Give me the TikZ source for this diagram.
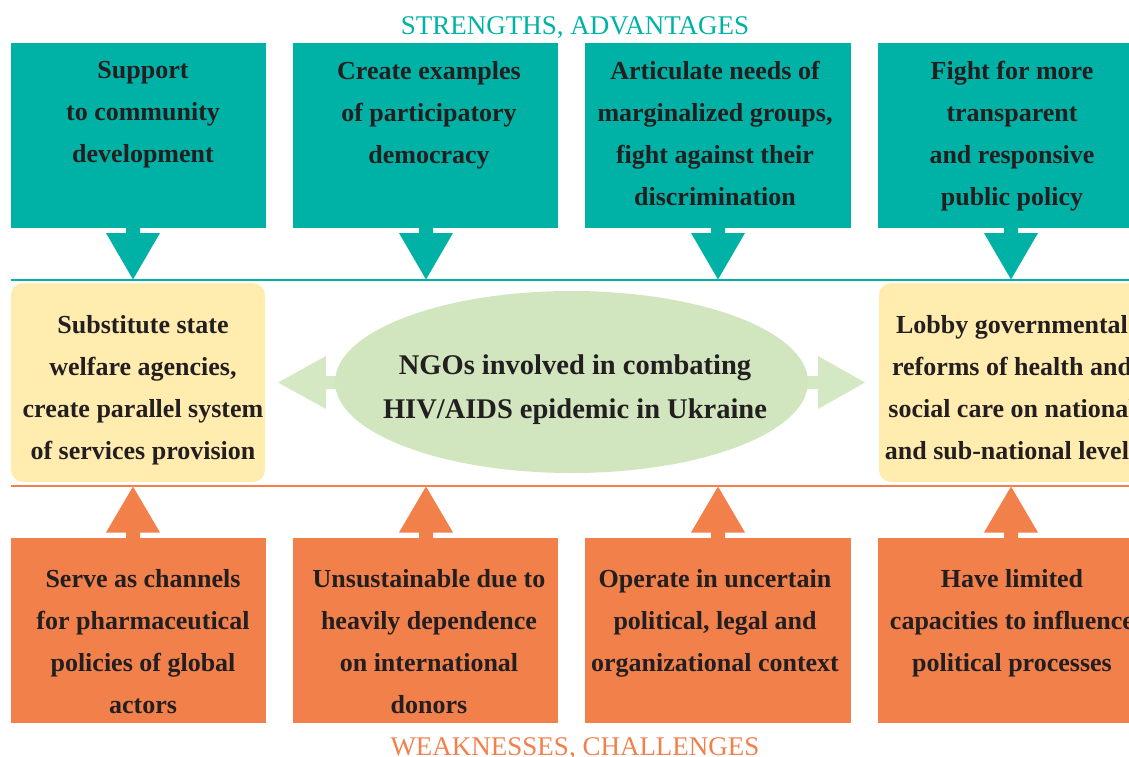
\documentclass[tikz,border=0pt]{standalone}
\usepackage{fontspec}
\setmainfont{Liberation Serif}
\usetikzlibrary{shapes.geometric}
\definecolor{tealc}{RGB}{0,178,166}
\definecolor{orangec}{RGB}{242,128,75}
\definecolor{yellowc}{RGB}{255,236,174}
\definecolor{greenc}{RGB}{209,230,190}
\definecolor{greenarr}{RGB}{212,232,196}
\definecolor{inkc}{RGB}{35,31,32}
\begin{document}
\begin{tikzpicture}[x=1pt,y=-1pt,
  boxt/.style={fill=tealc,inner sep=0pt,minimum height=185pt},
  boxo/.style={fill=orangec,inner sep=0pt,minimum height=185pt},
  boxy/.style={fill=yellowc,rounded corners=12pt,inner sep=0pt,minimum height=199pt},
  txt/.style={anchor=north,inner sep=0pt,align=center,text=inkc,
    font=\fontsize{26}{42}\selectfont\bfseries,
    execute at begin node={\rule{0pt}{30pt}}},
  ctxt/.style={anchor=north,inner sep=0pt,align=center,text=inkc,
    font=\fontsize{28.5}{43.5}\selectfont\bfseries,
    execute at begin node={\rule{0pt}{30pt}}},
  ttl/.style={anchor=base,inner sep=0pt,font=\fontsize{27}{30}\selectfont},
  rule/.style={line width=2pt}
]
\useasboundingbox (0,0) rectangle (1129,757);
\clip (0,0) rectangle (1129,757);

% titles
\node[ttl,text=tealc] (ttop) at (575,35) {STRENGTHS, ADVANTAGES};
\node[ttl,text=orangec] (tbot) at (575,755) {WEAKNESSES, CHALLENGES};

% top boxes
\node[boxt,minimum width=255pt] (t1) at (138.5,135.5) {};
\node[boxt,minimum width=265pt] (t2) at (425.5,135.5) {};
\node[boxt,minimum width=266pt] (t3) at (718,135.5) {};
\node[boxt,minimum width=266pt] (t4) at (1011,135.5) {};
\node[txt] (t1x) at (143,61) {Support\\to community\\development};
\node[txt] (t2x) at (429,61) {Create examples\\of participatory\\democracy};
\node[txt] (t3x) at (715,61) {Articulate needs of\\marginalized groups,\\fight against their\\discrimination};
\node[txt] (t4x) at (1012,61) {Fight for more\\transparent\\and responsive\\public policy};

% bottom boxes
\node[boxo,minimum width=255pt] (b1) at (138.5,630.5) {};
\node[boxo,minimum width=265pt] (b2) at (425.5,630.5) {};
\node[boxo,minimum width=266pt] (b3) at (718,630.5) {};
\node[boxo,minimum width=266pt] (b4) at (1011,630.5) {};
\node[txt] (b1x) at (143,569) {Serve as channels\\for pharmaceutical\\policies of global\\actors};
\node[txt] (b2x) at (429,569) {Unsustainable due to\\heavily dependence\\on international\\donors};
\node[txt] (b3x) at (715,569) {Operate in uncertain\\political, legal and\\organizational context};
\node[txt] (b4x) at (1012,569) {Have limited\\capacities to influence\\political processes};

% horizontal rules
\coordinate (tl) at (11,280);
\coordinate (tr) at (1129,280);
\coordinate (ol) at (11,486);
\coordinate (or) at (1129,486);
\draw[rule,tealc] (tl) -- (tr);
\draw[rule,orangec] (ol) -- (or);

% down arrows (teal)
\foreach \c/\n in {133/t1,426/t2,718/t3,1011/t4}{
  \fill[tealc] (\c-7,227) -- (\c+7,227) -- (\c+7,233) -- (\c+27,233)
     -- (\c,279.5) -- (\c-27,233) -- (\c-7,233) -- cycle;
}
% up arrows (orange)
\foreach \c/\n in {133/b1,426/b2,718/b3,1011/b4}{
  \fill[orangec] (\c-7,539) -- (\c+7,539) -- (\c+7,532.5) -- (\c+27,532.5)
     -- (\c,486.5) -- (\c-27,532.5) -- (\c-7,532.5) -- cycle;
}

% yellow boxes
\node[boxy,minimum width=254pt] (yl) at (138,382.5) {};
\node[boxy,minimum width=264pt] (yr) at (1011,382.5) {};
\node[txt] (ylx) at (143,315) {Substitute state\\welfare agencies,\\create parallel system\\of services provision};
\node[txt] (yrx) at (1012,315) {Lobby governmental\\reforms of health and\\social care on national\\and sub-national levels};

% double arrow
\coordinate (al) at (278,382.5);
\coordinate (ar) at (865,382.5);
\fill[greenarr] (al) -- (326,356) -- (326,376) -- (818,376) -- (818,356)
  -- (ar) -- (818,409) -- (818,389) -- (326,389) -- (326,409) -- cycle;

% central ellipse
\node[ellipse,fill=greenc,inner sep=0pt,minimum width=473pt,minimum height=182pt] (core) at (571.5,382) {};
\node[ctxt] (corex) at (575,355) {NGOs involved in combating\\HIV/AIDS epidemic in Ukraine};
\end{tikzpicture}
\end{document}
